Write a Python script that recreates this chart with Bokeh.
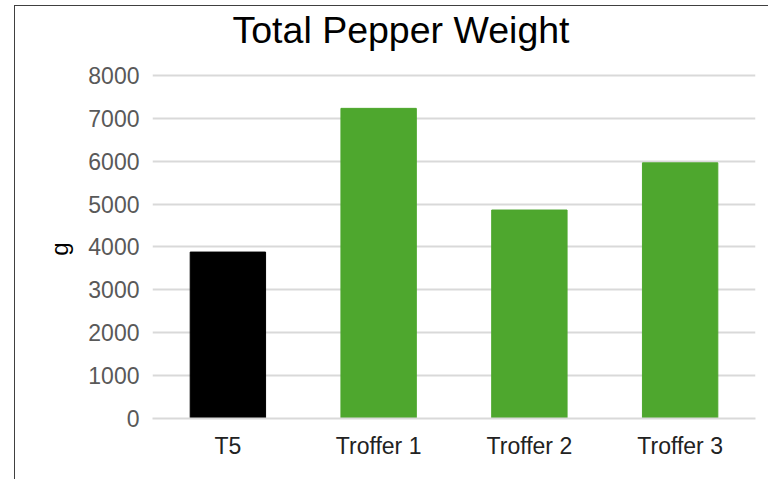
from bokeh.plotting import figure
from bokeh.models import FixedTicker, ColumnDataSource, Label, Range1d
from bokeh.embed import file_html
from bokeh.resources import INLINE

categories = ["T5", "Troffer 1", "Troffer 2", "Troffer 3"]
weights = [3880, 7230, 4860, 5960]
bar_colors = ["#000000", "#4EA72E", "#4EA72E", "#4EA72E"]
y_ticks = [0, 1000, 2000, 3000, 4000, 5000, 6000, 7000, 8000]
chart_title = "Total Pepper Weight"
y_label = "g"

src = ColumnDataSource(dict(cat=categories, w=weights, c=bar_colors))

# frame spans page y 6..419; the 8000 gridline sits at y 75, leaving room for the title inside
y_top = 8000 * 413 / 344

p = figure(x_range=categories, y_range=Range1d(0, y_top), width=754, height=474,
           output_backend="svg", toolbar_location=None,
           min_border_left=137, min_border_right=14, min_border_top=0, min_border_bottom=62)
p.styles = {"margin-left": "14px", "margin-top": "5px",
            "border-left": "1px solid #404040", "border-top": "1px solid #404040"}
p.x_range.range_padding = 0
p.outline_line_color = None

p.vbar(x="cat", top="w", width=0.5, color="c", source=src)

title_label = Label(text=chart_title, x=80 / 150.75, y=8000 * 389 / 344,
                    text_font="Liberation Sans", text_font_size="37.5px",
                    text_color="#000000", text_baseline="alphabetic", text_align="left")
p.add_layout(title_label)

p.yaxis.ticker = FixedTicker(ticks=y_ticks)
p.yaxis.axis_line_color = None
p.yaxis.major_tick_line_color = None
p.yaxis.minor_tick_line_color = None
p.yaxis.major_label_text_font = "Liberation Sans"
p.yaxis.major_label_text_font_size = "23px"
p.yaxis.major_label_text_color = "#595959"
p.yaxis.major_label_standoff = 7
# trailing no-break spaces keep the rotated "g" centred on the 0-8000 band
p.yaxis.axis_label = y_label + "\u00a0" * 11
p.yaxis.axis_label_text_font = "Liberation Sans"
p.yaxis.axis_label_text_font_size = "24px"
p.yaxis.axis_label_text_font_style = "normal"
p.yaxis.axis_label_text_color = "#000000"
p.yaxis.axis_label_standoff = 12

p.xaxis.axis_line_color = "#d9d9d9"
p.xaxis.axis_line_width = 2
p.xaxis.major_tick_line_color = None
p.xaxis.minor_tick_line_color = None
p.xaxis.major_label_text_font = "Liberation Sans"
p.xaxis.major_label_text_font_size = "23px"
p.xaxis.major_label_text_color = "#222222"
p.xaxis.major_label_standoff = 8

p.xgrid.grid_line_color = None
p.ygrid.grid_line_color = "#d9d9d9"
p.ygrid.grid_line_width = 2

open("out.html", "w").write(file_html(p, INLINE))
